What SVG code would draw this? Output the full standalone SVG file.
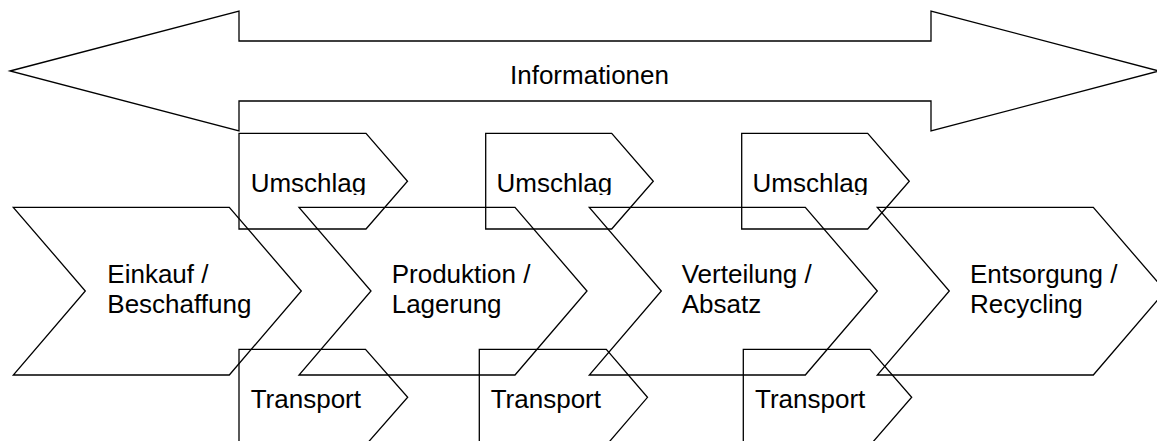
<svg xmlns="http://www.w3.org/2000/svg" width="1157" height="441" viewBox="0 0 1157 441">
  <style>
    .shape { fill: none; stroke: #000; stroke-width: 1.3; stroke-linejoin: miter; }
    .lbl { font-family: "Liberation Sans", Arial, sans-serif; font-size: 26px; fill: #000; }
  </style>
  <defs>
    <clipPath id="umclip"><rect x="0" y="0" width="1157" height="195"/></clipPath>
  </defs>
  <rect x="0" y="0" width="1157" height="441" fill="#fff"/>

  <g id="informationen">
    <polygon class="shape" points="10,71 239,11 239,41 931,41 931,11 1159,71 931,131 931,101 239,101 239,131"/>
    <text class="lbl" x="510" y="83.5">Informationen</text>
  </g>

  <g id="umschlag1">
    <polygon class="shape" points="239,133.3 366,133.3 407.5,181.2 366,229 239,229"/>
    <text class="lbl" x="250.7" y="191.7" clip-path="url(#umclip)">Umschlag</text>
  </g>
  <g id="umschlag2">
    <polygon class="shape" points="485.7,133.3 611.7,133.3 653.3,181.2 611.7,229 485.7,229"/>
    <text class="lbl" x="496.5" y="191.7" clip-path="url(#umclip)">Umschlag</text>
  </g>
  <g id="umschlag3">
    <polygon class="shape" points="741.7,133.3 867.7,133.3 909.3,181.2 867.7,229 741.7,229"/>
    <text class="lbl" x="752.5" y="191.7" clip-path="url(#umclip)">Umschlag</text>
  </g>

  <g id="einkauf">
    <polygon class="shape" points="13.3,207.3 229.3,207.3 301.3,291 229.3,375 13.3,375 85.3,291"/>
    <text class="lbl" x="107.3" y="283.3">Einkauf /</text>
    <text class="lbl" x="107.3" y="313.3">Beschaffung</text>
  </g>
  <g id="produktion">
    <polygon class="shape" points="299,207.3 515,207.3 587,291 515,375 299,375 371,291"/>
    <text class="lbl" x="391.7" y="283.3">Produktion /</text>
    <text class="lbl" x="391.7" y="313.3">Lagerung</text>
  </g>
  <g id="verteilung">
    <polygon class="shape" points="589.3,207.3 805.3,207.3 877.3,291 805.3,375 589.3,375 661.3,291"/>
    <text class="lbl" x="681.7" y="283.3">Verteilung /</text>
    <text class="lbl" x="681.7" y="313.3">Absatz</text>
  </g>
  <g id="entsorgung">
    <polygon class="shape" points="877.3,207.3 1093.3,207.3 1165.3,291 1093.3,375 877.3,375 949.3,291"/>
    <text class="lbl" x="970" y="283.3">Entsorgung /</text>
    <text class="lbl" x="970" y="313.3">Recycling</text>
  </g>

  <g id="transport1">
    <polygon class="shape" points="239,349.3 365.5,349.3 407.7,397.3 365.5,445.3 239,445.3"/>
    <text class="lbl" x="250.7" y="407.5">Transport</text>
  </g>
  <g id="transport2">
    <polygon class="shape" points="479.3,349.3 606.3,349.3 647.5,397.3 606.3,445.3 479.3,445.3"/>
    <text class="lbl" x="490.7" y="407.5">Transport</text>
  </g>
  <g id="transport3">
    <polygon class="shape" points="743.3,349.3 870,349.3 911.7,397.3 870,445.3 743.3,445.3"/>
    <text class="lbl" x="755" y="407.5">Transport</text>
  </g>

  <g id="connectors"></g>
</svg>
